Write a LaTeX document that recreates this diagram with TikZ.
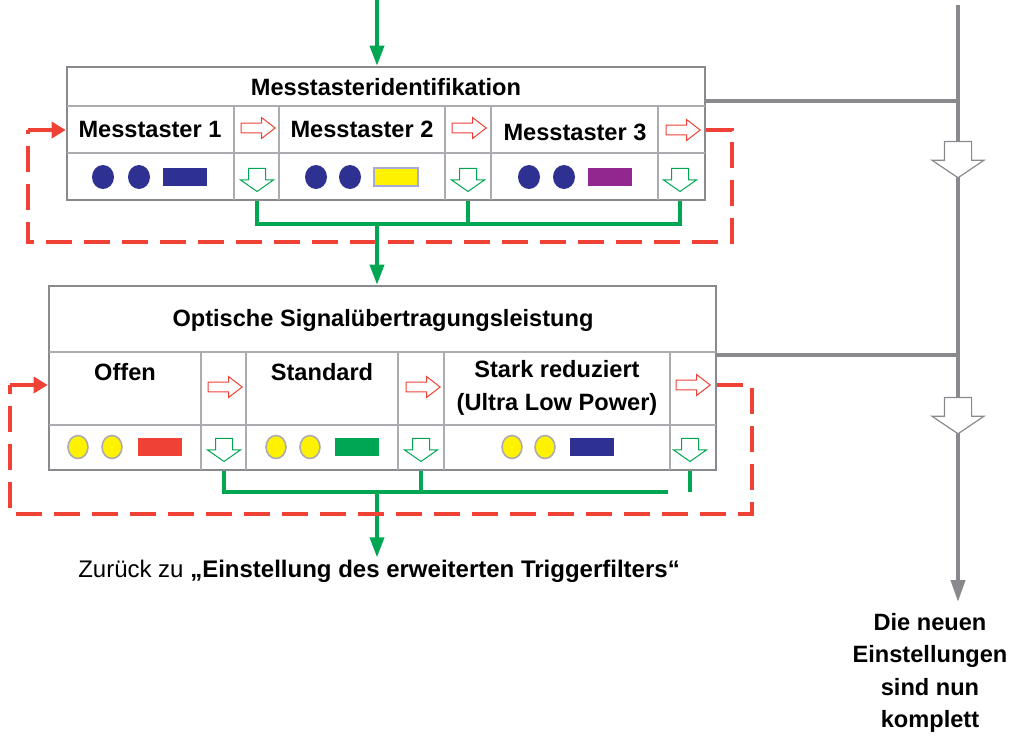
\documentclass[tikz,border=0pt]{standalone}
\usepackage{fontspec}
\setmainfont{Liberation Sans}
\usetikzlibrary{shapes,arrows,arrows.meta,calc,positioning}

\definecolor{sigred}{RGB}{239,65,54}
\definecolor{siggreen}{RGB}{0,166,81}
\definecolor{sigblue}{RGB}{46,49,146}
\definecolor{sigpurple}{RGB}{146,39,143}
\definecolor{sigyellow}{RGB}{255,242,0}
\definecolor{lavender}{RGB}{167,169,214}
\definecolor{framegray}{RGB}{138,138,142}
\definecolor{cellgray}{RGB}{172,172,176}

\tikzstyle{frame} = [rectangle, draw=framegray, line width=1.3pt, inner sep=0pt]
\tikzstyle{cellline} = [draw=cellgray, line width=0.7pt]
\tikzstyle{lbl} = [font=\fontsize{11.8}{16.5}\selectfont\bfseries, inner sep=0pt, align=center]
\tikzstyle{rarrow} = [single arrow, draw=sigred, fill=white, line width=0.5pt, inner sep=2.2pt,
    minimum height=17pt, minimum width=10pt, single arrow head extend=2.8pt, single arrow tip angle=75]
\tikzstyle{darrow} = [single arrow, shape border rotate=270, draw=siggreen, fill=white, line width=0.5pt,
    inner sep=4pt, minimum height=11.5pt, minimum width=16pt, single arrow head extend=4pt, single arrow tip angle=110]
\tikzstyle{garrow} = [single arrow, shape border rotate=270, draw=framegray, fill=white, line width=0.6pt,
    inner sep=6.5pt, minimum height=17pt, minimum width=25.5pt, single arrow head extend=6.25pt, single arrow tip angle=112]
\tikzstyle{led} = [ellipse, inner sep=0pt, minimum width=11pt, minimum height=12pt, fill=sigblue]
\tikzstyle{yled} = [ellipse, inner sep=0pt, minimum width=10pt, minimum height=11.5pt, fill=sigyellow, draw=cellgray, line width=0.8pt]
\tikzstyle{ledbar} = [rectangle, inner sep=0pt, minimum width=22pt, minimum height=9pt]
\tikzstyle{bus} = [draw=siggreen, line width=1.8pt]
\tikzstyle{flow} = [draw=framegray, line width=2pt]
\tikzstyle{feedback} = [draw=sigred, line width=1.8pt, dash pattern=on 13pt off 6pt]

\begin{document}
\begin{tikzpicture}[x=0.5pt, y=-0.5pt]
\useasboundingbox (0,0) rectangle (1013,736);

%% Main flow on the right
\coordinate (top) at (958,5);
\coordinate (flowend) at (958,602);
\draw[flow, -{Triangle[width=7pt,length=11pt]}] (top) -- (flowend);
\node [lbl, font=\fontsize{11.8}{16.25}\selectfont\bfseries] (done) at (930,673) {Die neuen\\Einstellungen\\sind nun\\komplett};

%% Messtasteridentifikation
\node [frame, minimum width=319pt, minimum height=66.5pt] (ident) at (386,133.5) {};
\draw[cellline] (67,106) -- (705,106);
\draw[cellline] (67,153) -- (705,153);
\foreach \gx in {234,279,445,491,658}{
    \draw[cellline] (\gx,106) -- (\gx,200);
}
\node [lbl] (ident title) at (386,87) {Messtasteridentifikation};
\node [lbl] (m1) at (150,129) {Messtaster 1};
\node [lbl] (m2) at (362,129) {Messtaster 2};
\node [lbl] (m3) at (575,132) {Messtaster 3};
\node [rarrow] (r1) at (255,128) {};
\node [rarrow] (r2) at (466,128) {};
\node [rarrow] (r3) at (680,130) {};
\node [darrow] (d1) at (257,177) {};
\node [darrow] (d2) at (468,177) {};
\node [darrow] (d3) at (680,177) {};
\node [led] (m1a) at (103,177) {};
\node [led] (m1b) at (139,177) {};
\node [ledbar, fill=sigblue] (m1c) at (185,177) {};
\node [led] (m2a) at (316,177) {};
\node [led] (m2b) at (350,177) {};
\node [ledbar, fill=sigyellow, draw=lavender, line width=1pt] (m2c) at (396,177) {};
\node [led] (m3a) at (529,177) {};
\node [led] (m3b) at (564,177) {};
\node [ledbar, fill=sigpurple] (m3c) at (610,177) {};

%% Optische Signaluebertragungsleistung
\node [frame, minimum width=333.5pt, minimum height=92pt] (optic) at (382.5,378) {};
\draw[cellline] (49,352) -- (716,352);
\draw[cellline] (49,425) -- (716,425);
\foreach \gx in {201,246,398,444,670}{
    \draw[cellline] (\gx,352) -- (\gx,470);
}
\node [lbl] (optic title) at (383,320) {Optische Signalübertragungsleistung};
\node [lbl] (o1) at (125,372) {Offen};
\node [lbl] (o2) at (322,372) {Standard};
\node [lbl] (o3) at (557,388) {Stark reduziert\\(Ultra Low Power)};
\node [rarrow] (s1) at (222,387) {};
\node [rarrow] (s2) at (420,387) {};
\node [rarrow] (s3) at (690,385) {};
\node [darrow] (e1) at (224,447) {};
\node [darrow] (e2) at (421,447) {};
\node [darrow] (e3) at (690,447) {};
\node [yled] (o1a) at (78,447) {};
\node [yled] (o1b) at (112,447) {};
\node [ledbar, fill=sigred] (o1c) at (160,447) {};
\node [yled] (o2a) at (276,447) {};
\node [yled] (o2b) at (310,447) {};
\node [ledbar, fill=siggreen] (o2c) at (357,447) {};
\node [yled] (o3a) at (512,447) {};
\node [yled] (o3b) at (545,447) {};
\node [ledbar, fill=sigblue] (o3c) at (592,447) {};

%% Return text
\node [font=\fontsize{12}{14}\selectfont, inner sep=1pt] (back) at (379,571)
    {Zurück zu {\bfseries „Einstellung des erweiterten Triggerfilters“}};

%% Gray links into the main flow
\coordinate (j1) at (958,101);
\coordinate (j2) at (958,355);
\draw[flow] (j1 -| ident.east) -- (j1);
\draw[flow] (j2 -| optic.east) -- (j2);
\node [garrow] (g1) at (958,155) {};
\node [garrow] (g2) at (958,411) {};

%% Green connectors
\coordinate (start) at (377,0);
\coordinate (bus1) at (377,224);
\coordinate (bus2) at (377,492);
\coordinate (busend) at (668,492);
\draw[bus, -{Triangle[width=7pt,length=10pt]}] (start) -- (start |- ident.north);
\draw[bus] (d1 |- ident.south) |- (d3 |- bus1) -- (d3 |- ident.south);
\draw[bus] (d2 |- ident.south) -- (d2 |- bus1);
\draw[bus, -{Triangle[width=7pt,length=10pt]}] (bus1) -- (bus1 |- optic.north);
\draw[bus] (e1 |- optic.south) |- (busend);
\draw[bus] (e2 |- optic.south) -- (e2 |- bus2);
\draw[bus] (e3 |- optic.south) -- (e3 |- bus2);
\draw[bus, -{Triangle[width=7pt,length=10pt]}] (bus2) -- (bus2 |- back.north);

%% Red feedback loops
\coordinate (loop1) at (28,242);
\coordinate (loop2) at (10,514);
\draw[feedback] (r3 -| ident.east) -| (732,242) -- (loop1) -- (loop1 |- r3);
\draw[draw=sigred, line width=1.8pt, -{Triangle[width=8pt,length=7pt]}] (loop1 |- r3) -- (r3 -| ident.west);
\draw[feedback] (s3 -| optic.east) -| (752,514) -- (loop2) -- (loop2 |- s3);
\draw[draw=sigred, line width=1.8pt, -{Triangle[width=8pt,length=7pt]}] (loop2 |- s3) -- (s3 -| optic.west);
\end{tikzpicture}
\end{document}
